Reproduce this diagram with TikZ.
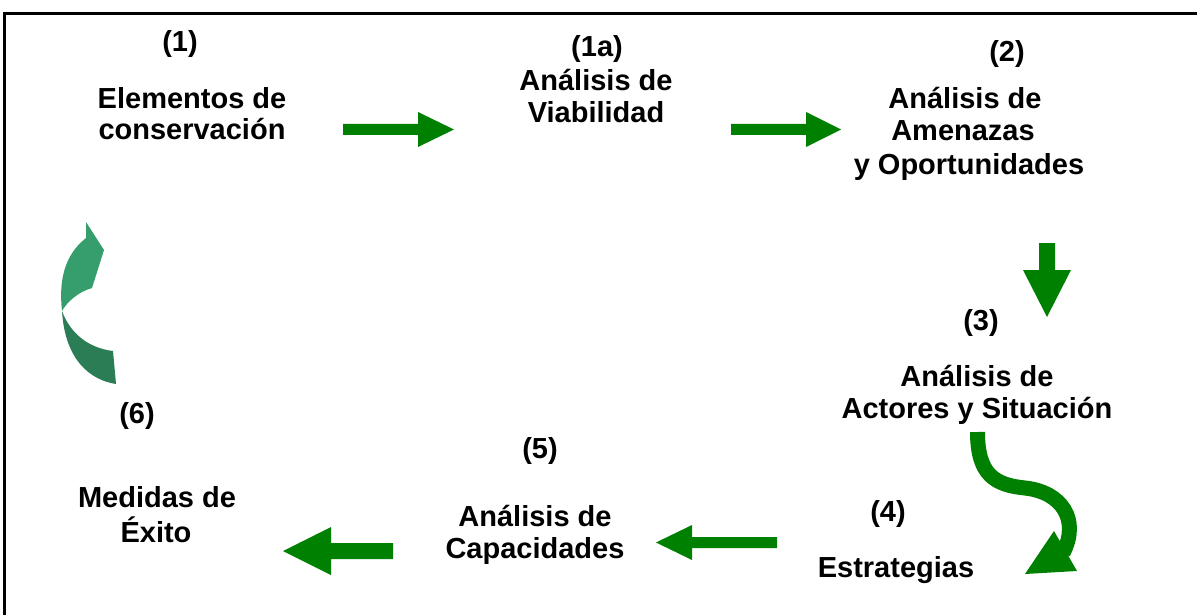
\documentclass[tikz,border=0pt]{standalone}
\usepackage{fontspec}
\setmainfont{Liberation Sans}
\definecolor{arrowgreen}{RGB}{0,128,0}
\definecolor{lightg}{RGB}{54,158,108}
\definecolor{darkg}{RGB}{42,125,84}
\begin{document}
\begin{tikzpicture}[x=1pt,y=-1pt,
  lbl/.style={anchor=base,inner sep=0pt,font=\fontsize{29}{33}\selectfont\bfseries},
  blockarrow/.style={fill=arrowgreen}]
\useasboundingbox (0,0) rectangle (1197,615);
\clip (0,0) rectangle (1197,615);
% frame
\draw[line width=3pt] (4.5,640) -- (4.5,14) -- (1220,14);
% labels
\node[lbl] (n1) at (180,52) {(1)};
\node[lbl] (t1a) at (192,109) {Elementos de};
\node[lbl] (t1b) at (192,140) {conservación};
\node[lbl] (n1a) at (597,57) {(1a)};
\node[lbl] (t2a) at (596,91) {Análisis de};
\node[lbl] (t2b) at (596,123) {Viabilidad};
\node[lbl] (n2) at (1007,62) {(2)};
\node[lbl] (t3a) at (965,109) {Análisis de};
\node[lbl] (t3b) at (963,141) {Amenazas};
\node[lbl] (t3c) at (969,175) {y Oportunidades};
\node[lbl] (n3) at (981,330) {(3)};
\node[lbl] (t4a) at (977,386) {Análisis de};
\node[lbl] (t4b) at (977,418) {Actores y Situación};
\node[lbl] (n4) at (888,521) {(4)};
\node[lbl] (t5) at (896,577) {Estrategias};
\node[lbl] (n5) at (540,458) {(5)};
\node[lbl] (t6a) at (535,526) {Análisis de};
\node[lbl] (t6b) at (535,558) {Capacidades};
\node[lbl] (n6) at (137,423) {(6)};
\node[lbl] (t7a) at (157,507) {Medidas de};
\node[lbl] (t7b) at (156,542) {Éxito};
% straight block arrows
\fill[blockarrow] (343,124) -- (418,124) -- (418,112) -- (454,129.5) -- (418,147) -- (418,135) -- (343,135) -- cycle;
\fill[blockarrow] (731,124) -- (806,124) -- (806,112) -- (841,129.5) -- (806,147) -- (806,135) -- (731,135) -- cycle;
\fill[blockarrow] (1039,243) -- (1055,243) -- (1055,270) -- (1071,270) -- (1047,317) -- (1023,270) -- (1039,270) -- cycle;
\fill[blockarrow] (393,543) -- (331,543) -- (331,527) -- (283,551) -- (331,575) -- (331,559) -- (393,559) -- cycle;
\fill[blockarrow] (777,537) -- (692,537) -- (692,525) -- (656,542.5) -- (692,560) -- (692,548) -- (777,548) -- cycle;
% curved arrow (3)->(4)
\draw[arrowgreen,line width=15pt] (977.5,432) .. controls (977.5,475) and (995,485) .. (1025,488) .. controls (1062,492) and (1080,520) .. (1063,553);
\fill[arrowgreen] (1025,574) -- (1077,571) -- (1054,531) -- cycle;
% curved arrow at (6)
\fill[lightg] (86,222) -- (104,250) -- (92,288) .. controls (78,292) and (67,302) .. (62,311) .. controls (59,283) and (63,256) .. (86,238) -- cycle;
\fill[darkg] (62,311) .. controls (70,333) and (88,348) .. (113,351) -- (116,384) .. controls (90,380) and (65,360) .. (62,311) -- cycle;
\end{tikzpicture}
\end{document}
